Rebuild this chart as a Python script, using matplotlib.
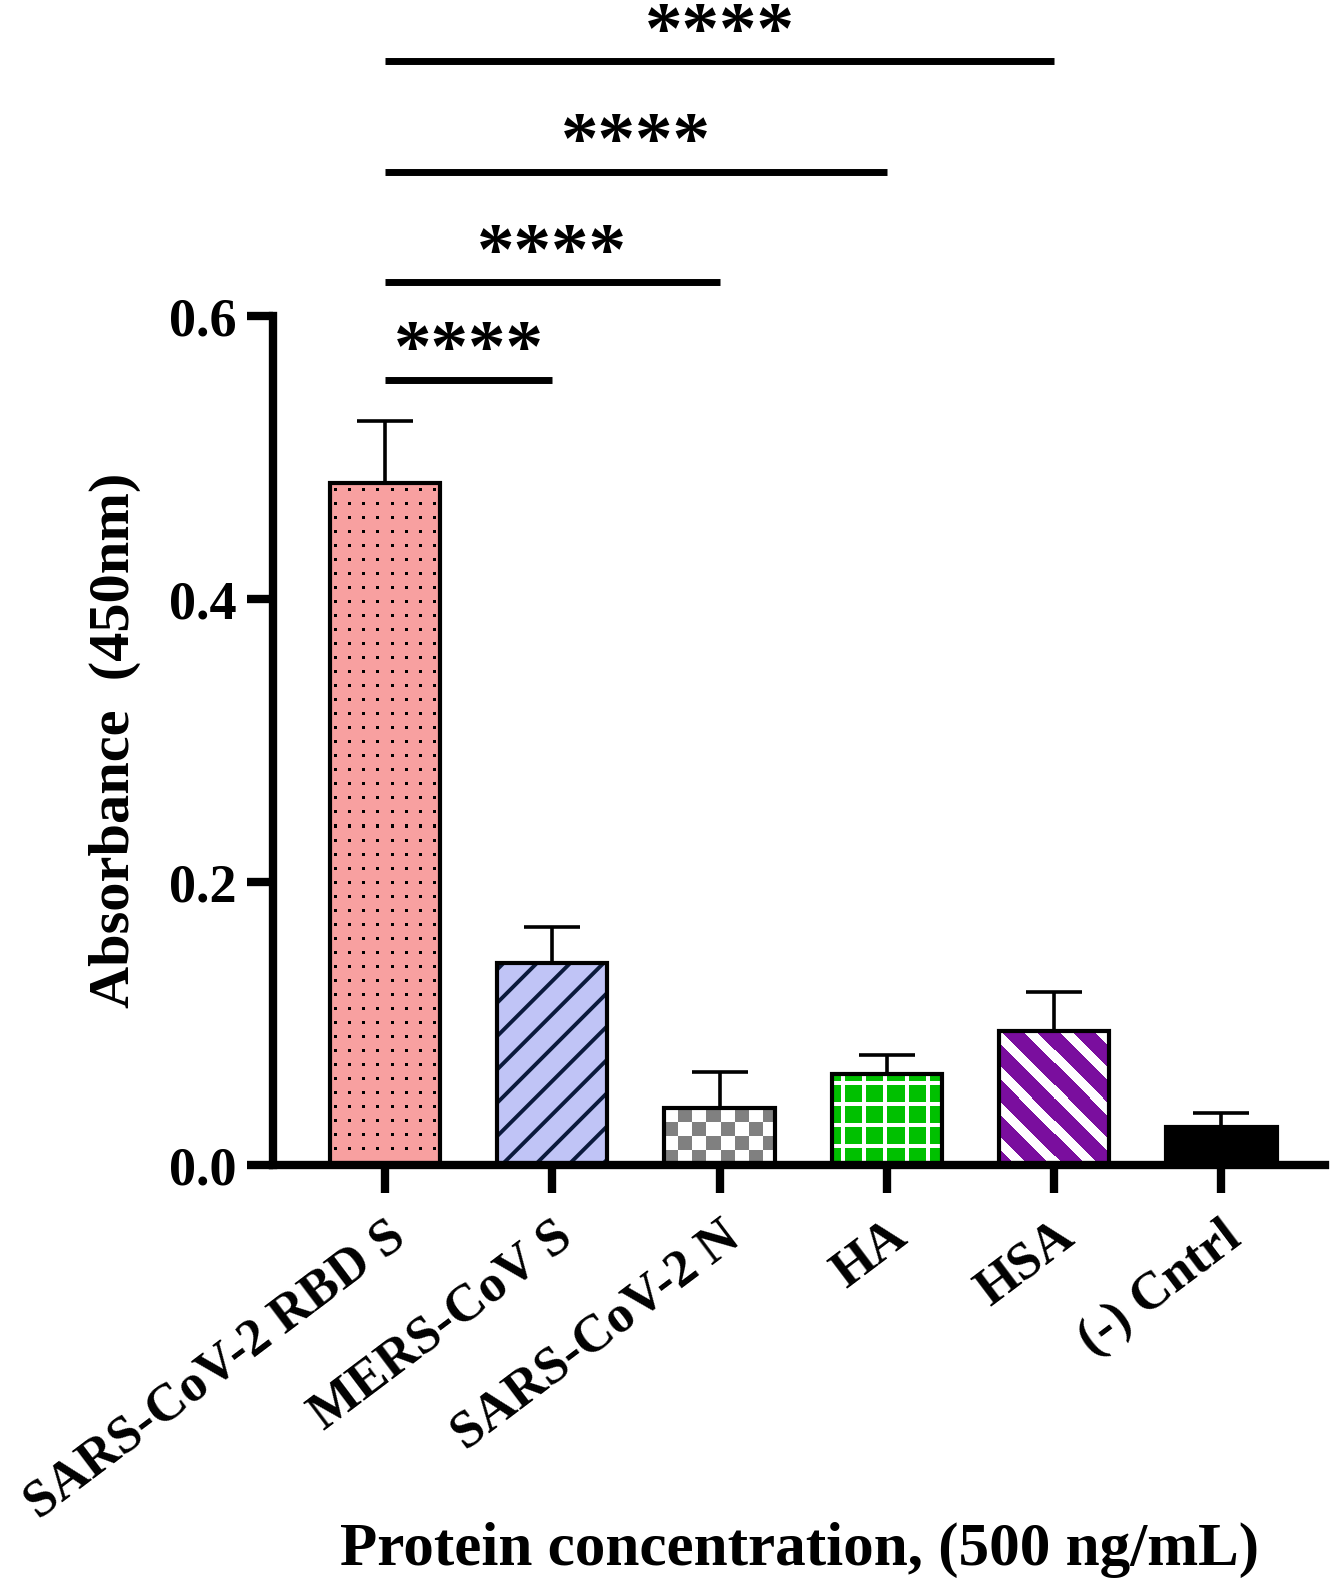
import numpy as np
import matplotlib
matplotlib.use("Agg")
import matplotlib.pyplot as plt

proteins = ["SARS-CoV-2 RBD S", "MERS-CoV S", "SARS-CoV-2 N", "HA", "HSA", "(-) Cntrl"]
absorbance = [0.482, 0.143, 0.040, 0.064, 0.095, 0.027]
sd = [0.044, 0.025, 0.026, 0.014, 0.027, 0.010]

# significance bars, all start at the first protein
sig_to = [1, 2, 3, 4]
sig_y = [0.555, 0.624, 0.702, 0.780]
sig_text = ["****", "****", "****", "****"]

plt.rcParams['font.family'] = ['Liberation Serif', 'DejaVu Serif']
plt.rcParams['font.weight'] = 'bold'
plt.rcParams['hatch.linewidth'] = 2.8

pink = np.array([248, 160, 160]) / 255
grey = np.array([128, 128, 128]) / 255
green = np.array([0, 192, 0]) / 255
purple = np.array([122, 14, 158]) / 255


def dots(h, w):
    img = np.ones((h, w, 3)) * pink
    ii, jj = np.mgrid[0:h, 0:w]
    img[((ii - 6) % 14 < 3) & ((jj - 4) % 14 < 3)] = 0
    return img


def checker(h, w):
    img = np.ones((h, w, 3))
    ii, jj = np.mgrid[0:h, 0:w]
    img[((ii // 14) + (jj // 14)) % 2 == 1] = grey
    return img


def grid(h, w):
    img = np.ones((h, w, 3)) * green
    ii, jj = np.mgrid[0:h, 0:w]
    img[((ii + 14) % 21 < 4) | ((jj + 12) % 21 < 4)] = 1
    return img


def stripes(h, w):
    img = np.ones((h, w, 3)) * purple
    ii, jj = np.mgrid[0:h, 0:w]
    img[(ii - jj) % 35 < 13] = 1
    return img


def fill_texture(ax, patch, maker):
    x0, y0 = patch.get_x(), patch.get_y()
    x1, y1 = x0 + patch.get_width(), y0 + patch.get_height()
    (px0, py0), (px1, py1) = ax.transData.transform([(x0, y0), (x1, y1)])
    w = max(int(round(abs(px1 - px0))), 1)
    h = max(int(round(abs(py1 - py0))), 1)
    im = ax.imshow(maker(h, w), extent=(x0, x1, y0, y1), aspect='auto',
                   interpolation='nearest', zorder=2)
    im.set_clip_path(patch)


fig = plt.figure(figsize=(13.44, 15.84), dpi=100)
ax = fig.add_axes([0.2031, 0.2645, 0.7828, 0.536])

x = np.arange(len(proteins))
width = 0.66
xlim = (-0.67, 5.62)
ylim = (0, 0.6)
ax.set_xlim(xlim)
ax.set_ylim(ylim)

ax.errorbar(x, absorbance, yerr=[np.zeros(len(sd)), sd], fmt='none', ecolor='k',
            elinewidth=2.6, capsize=20, capthick=2.6, zorder=1)

bars = ax.bar(x, absorbance, width, facecolor='none', edgecolor='k', linewidth=3, zorder=3)

# fills
fill_texture(ax, bars[0], dots)
ax.bar(x[1], absorbance[1], width, facecolor='#c0c4f6', edgecolor='#0b1a3c',
       hatch='/', linewidth=0, zorder=2)
fill_texture(ax, bars[2], checker)
fill_texture(ax, bars[3], grid)
fill_texture(ax, bars[4], stripes)
ax.bar(x[5], absorbance[5], width, color='k', linewidth=0, zorder=2)

ax.set_xlim(xlim)
ax.set_ylim(ylim)

# significance lines
for to, yy, txt in zip(sig_to, sig_y, sig_text):
    ax.plot([x[0], x[to]], [yy, yy], color='k', linewidth=5, solid_capstyle='butt',
            clip_on=False)
    ax.text((x[0] + x[to]) / 2, yy + 0.006, txt, ha='center', va='baseline',
            fontsize=54, fontweight='bold', clip_on=False)

for s in ['top', 'right']:
    ax.spines[s].set_visible(False)
for s in ['left', 'bottom']:
    ax.spines[s].set_linewidth(6)

ax.set_yticks([0.0, 0.2, 0.4, 0.6])
ax.set_yticklabels(['0.0', '0.2', '0.4', '0.6'])
ax.set_xticks(x)
ax.set_xticklabels(proteins, rotation=37, ha='right', va='top', rotation_mode='anchor')
ax.tick_params(axis='y', length=19, width=6, pad=7, labelsize=39)
ax.tick_params(axis='x', length=20, width=6, pad=14, labelsize=38)

ax.set_ylabel('Absorbance  (450nm)', fontsize=42, fontweight='bold', labelpad=20)
ax.set_xlabel('Protein concentration, (500 ng/mL)', fontsize=44, fontweight='bold')
ax.xaxis.set_label_coords(0.5, -0.42)

fig.savefig('out.png', dpi=100)
